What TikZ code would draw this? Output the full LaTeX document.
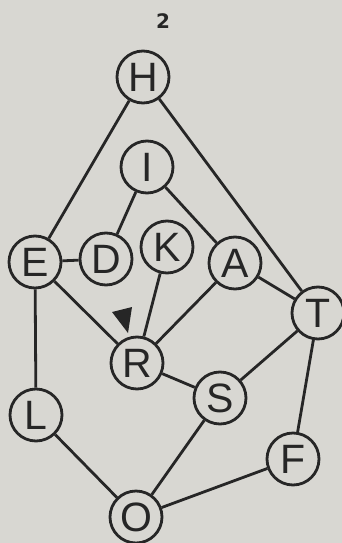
\documentclass[tikz,border=0pt]{standalone}
\usepackage{fontspec}
\setmainfont{Liberation Sans}
\newfontfamily\heavyfont{DejaVu Sans}
\definecolor{paper}{RGB}{216,215,210}
\definecolor{ink}{RGB}{38,38,38}
\begin{document}
\begin{tikzpicture}[x=1pt,y=-1pt,
  vert/.style={circle,draw=ink,line width=2.8pt,minimum size=52pt,inner sep=0pt,font=\fontsize{41}{41}\selectfont,text=ink},
  edge/.style={draw=ink,line width=2.8pt}]
\fill[paper] (0,0) rectangle (342,543);
\useasboundingbox (0,0) rectangle (342,543);
\node[font=\heavyfont\bfseries\fontsize{20}{20}\selectfont,text=ink] (lab) at (163,21) {2};
\node[vert] (H) at (143,77) {H};
\node[vert] (I) at (147,167) {I};
\node[vert] (E) at (35,262) {E};
\node[vert] (D) at (106,259) {D};
\node[vert] (K) at (167,247) {K};
\node[vert] (A) at (235,263) {A};
\node[vert] (T) at (318,313) {T};
\node[vert] (R) at (137,363) {R};
\node[vert] (S) at (220,398) {S};
\node[vert] (L) at (36,415) {L};
\node[vert] (F) at (293,459) {F};
\node[vert] (O) at (136,517) {O};
\draw[edge] (H) -- (E);
\draw[edge] (H) -- (T);
\draw[edge] (I) -- (D);
\draw[edge] (I) -- (A);
\draw[edge] (E) -- (D);
\draw[edge] (E) -- (R);
\draw[edge] (E) -- (L);
\draw[edge] (K) -- (R);
\draw[edge] (A) -- (R);
\draw[edge] (A) -- (T);
\draw[edge] (T) -- (S);
\draw[edge] (T) -- (F);
\draw[edge] (R) -- (S);
\draw[edge] (L) -- (O);
\draw[edge] (S) -- (O);
\draw[edge] (F) -- (O);
\fill[ink] (112,312) -- (132,307) -- (128,333) -- cycle;
\end{tikzpicture}
\end{document}
